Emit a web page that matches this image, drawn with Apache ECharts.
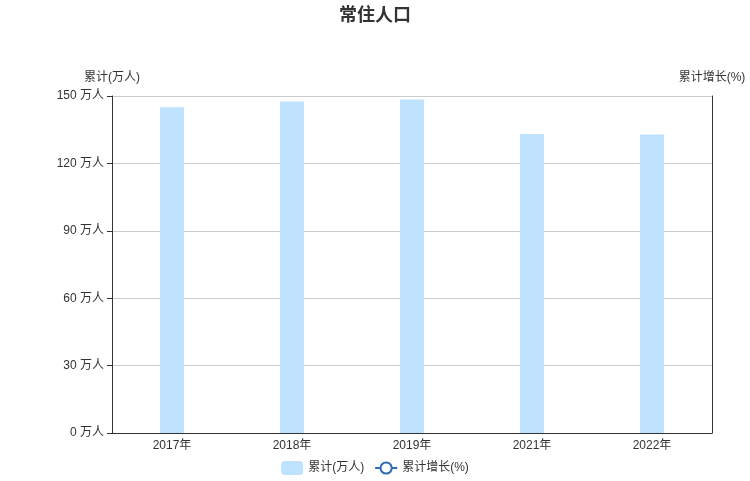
<!DOCTYPE html>
<html><head><meta charset="utf-8">
<script src="https://cdn.jsdelivr.net/npm/echarts@6/dist/echarts.min.js"></script>
<style>html,body{margin:0;padding:0;background:#fff}#c{width:750px;height:481px}</style>
</head><body><div id="c"></div>
<script>
const categories = ['2017年','2018年','2019年','2021年','2022年'];
const totalValues = [145.0, 147.5, 148.4, 133.1, 132.9];
const growthValues = [null, null, null, null, null];
const leftTicks = [0, 30, 60, 90, 120, 150];

const chart = echarts.init(document.getElementById('c'));
chart.setOption({
  animation: false,
  textStyle: {fontFamily: '"Liberation Sans", "Noto Sans CJK SC", sans-serif'},
  title: {text: '常住人口', left: 'center', top: 2,
    textStyle: {fontSize: 18, fontWeight: 'bold', color: '#333'}},
  legend: {bottom: 1, left: 'center', itemWidth: 22, itemHeight: 14, itemGap: 10,
    textStyle: {fontSize: 12, color: '#333'},
    data: ['累计(万人)', '累计增长(%)']},
  grid: {left: 112, right: 38, top: 96, bottom: 48},
  xAxis: {type: 'category', data: categories,
    axisLine: {lineStyle: {color: '#333'}},
    axisTick: {lineStyle: {color: '#333'}},
    axisLabel: {color: '#333', fontSize: 12, margin: 7}},
  yAxis: [
    {type: 'value', name: '累计(万人)', min: leftTicks[0], max: leftTicks[leftTicks.length-1], interval: 30,
     nameTextStyle: {color: '#333', fontSize: 12},
     nameGap: 12,
     axisLine: {show: true, lineStyle: {color: '#333'}},
     axisTick: {show: true, lineStyle: {color: '#333'}},
     axisLabel: {color: '#333', fontSize: 12, formatter: '{value} 万人'},
     splitLine: {lineStyle: {color: '#ccc'}}},
    {type: 'value', name: '累计增长(%)', position: 'right', min: 0, max: 1,
     nameTextStyle: {color: '#333', fontSize: 12},
     nameGap: 12,
     axisLine: {show: true, lineStyle: {color: '#333'}},
     axisTick: {show: false},
     axisLabel: {show: false},
     splitLine: {show: false}}
  ],
  series: [
    {name: '累计(万人)', type: 'bar', data: totalValues, barWidth: '20%',
     itemStyle: {color: '#bfe3fe'}},
    {name: '累计增长(%)', type: 'line', yAxisIndex: 1, data: growthValues,
     symbol: 'emptyCircle', symbolSize: 7,
     itemStyle: {color: '#2f6bb0', borderWidth: 1}, lineStyle: {color: '#2f6bb0', width: 1}}
  ]
});
</script></body></html>
